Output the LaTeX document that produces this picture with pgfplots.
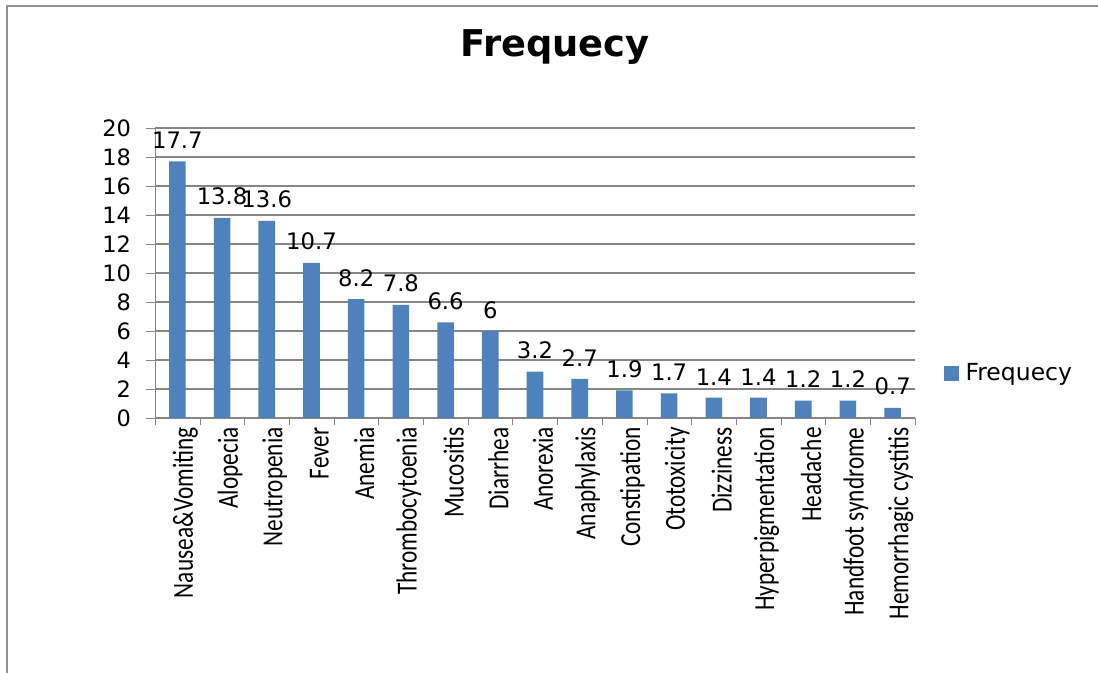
\documentclass[border=0pt]{standalone}
\usepackage{pgfplots}
\pgfplotsset{compat=1.18}
\usepackage{fontspec}
\setmainfont{DejaVu Sans}
\newfontfamily\xlabfont[FakeStretch=0.8]{Carlito}
\definecolor{barblue}{HTML}{4F81BD}
\definecolor{gridgray}{HTML}{868686}
\begin{document}
\begin{tikzpicture}
\useasboundingbox (0,0) rectangle (549bp,336.5bp);
\draw[gridgray!90, line width=1.2bp] (3.5bp,0) -- (3.5bp,333.5bp) -- (549bp,333.5bp);
\node[font=\fontsize{18.5}{20}\selectfont\bfseries] at (277.5bp,313bp) {Frequecy};
\begin{axis}[
  at={(77.5bp,127.5bp)}, anchor=south west,
  scale only axis, width=380bp, height=145bp,
  xmin=-0.5, xmax=16.5, ymin=0, ymax=20,
  ytick={0,2,...,20},
  xtick={0,...,16},
  xticklabels={Nausea\&Vomiting,Alopecia,Neutropenia,Fever,Anemia,Thrombocytoenia,Mucositis,Diarrhea,Anorexia,Anaphylaxis,Constipation,Ototoxicity,Dizziness,Hyperpigmentation,Headache,Handfoot syndrome,Hemorrhagic cystitis},
  minor xtick={-0.5,0.5,...,16.5},
  major x tick style={draw=none},
  minor x tick style={gridgray},
  axis lines=left,
  axis line style={gridgray, -},
  ymajorgrids, grid style={gridgray, line width=0.6bp},
  tick align=outside,
  major tick length=4.5bp, minor tick length=3.5bp,
  y tick style={gridgray},
  /pgf/number format/assume math mode=true,
  yticklabel style={font=\fontsize{11.3}{13}\selectfont, xshift=-4bp},
  xticklabel style={rotate=90, anchor=east, font=\xlabfont\fontsize{14.6}{16}\selectfont, inner sep=0pt, yshift=-4bp},
  ybar, bar width=8.3bp,
  nodes near coords,
  nodes near coords style={font=\fontsize{11.4}{13}\selectfont, yshift=2.8bp, /pgf/number format/fixed},
  legend style={at={(1.037,0.155)}, anchor=west, draw=none, font=\fontsize{11.8}{13}\selectfont, inner sep=0pt},
  legend image code/.code={\fill[#1] (0bp,-3.75bp) rectangle (7.5bp,3.75bp);},
]
\addplot[fill=barblue, draw=none] coordinates {
(0,17.7) (1,13.8) (2,13.6) (3,10.7) (4,8.2) (5,7.8) (6,6.6) (7,6)
(8,3.2) (9,2.7) (10,1.9) (11,1.7) (12,1.4) (13,1.4) (14,1.2) (15,1.2) (16,0.7)};
\addlegendentry{\hspace{1.5bp}Frequecy}
\end{axis}
\end{tikzpicture}
\end{document}
